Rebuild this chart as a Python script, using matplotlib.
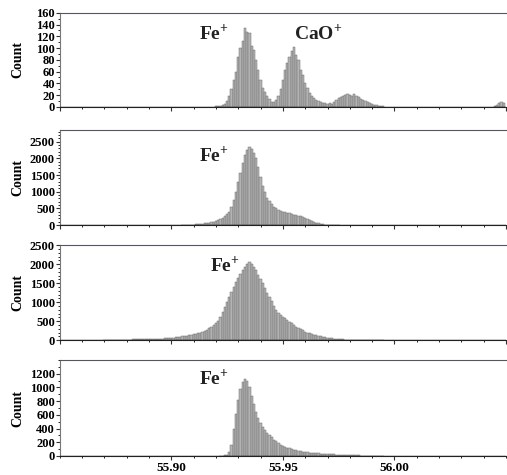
import numpy as np
import matplotlib.pyplot as plt
from matplotlib.ticker import MultipleLocator

# bin width of the mass spectra (m/z)
step = 0.001

# panel 1: Fe+ and CaO+ peaks
p1_start = 55.920
p1_counts = [1, 2, 1, 3, 5, 10, 18, 30, 45, 60,
             85, 100, 112, 135, 128, 126, 104, 96, 80, 62,
             45, 32, 25, 18, 14, 8, 9, 12, 18, 30,
             45, 62, 75, 84, 95, 102, 88, 80, 62, 55,
             40, 32, 24, 18, 15, 12, 10, 8, 6, 7,
             5, 6, 5, 8, 12, 15, 16, 18, 20, 22,
             20, 19, 22, 18, 16, 14, 12, 10, 9, 7,
             5, 4, 3, 2, 2, 1]
p1_edge_start = 56.045
p1_edge_counts = [2, 3, 6, 8, 6]

# panel 2
p2_start = 55.905
p2_counts = [5, 8, 10, 12, 15, 18, 22, 28, 35, 42,
             50, 60, 70, 85, 100, 120, 140, 170, 210, 260,
             320, 400, 550, 760, 1000, 1300, 1550, 1850, 2100, 2250,
             2350, 2280, 2150, 2020, 1750, 1450, 1180, 980, 820, 720,
             620, 540, 500, 460, 420, 400, 380, 360, 350, 330,
             310, 300, 280, 260, 240, 210, 180, 150, 120, 90,
             70, 50, 35, 25, 18, 12, 8, 6, 4, 3, 2]

# panel 3
p3_start = 55.870
p3_counts = [5, 6, 6, 7, 8, 8, 9, 10, 11, 12,
             13, 14, 15, 16, 17, 18, 19, 20, 22, 23,
             25, 27, 29, 31, 34, 37, 40, 44, 48, 55,
             60, 66, 72, 80, 88, 96, 105, 115, 125, 135,
             150, 165, 180, 200, 220, 245, 275, 310, 350, 395,
             440, 500, 600, 750, 880, 1010, 1140, 1270, 1400, 1530,
             1640, 1740, 1840, 1930, 1990, 2050, 2000, 1930, 1840, 1720,
             1600, 1490, 1370, 1250, 1140, 1020, 900, 790, 720, 660,
             610, 570, 520, 480, 440, 400, 350, 320, 290, 255,
             220, 200, 180, 165, 145, 130, 115, 100, 85, 72,
             60, 52, 45, 38, 32, 25, 22, 18, 15, 12,
             10, 9, 8, 7, 6, 5, 4, 4, 3, 3,
             2, 2, 2, 1, 1, 1]

# panel 4
p4_start = 55.922
p4_counts = [2, 5, 10, 20, 60, 160, 400, 620,
             820, 980, 1080, 1120, 1090, 1000, 880, 760, 640, 560,
             480, 420, 380, 340, 300, 270, 240, 215, 190, 165,
             150, 135, 120, 110, 100, 92, 84, 76, 70, 64,
             58, 54, 50, 46, 42, 40, 37, 35, 33, 31,
             29, 27, 25, 23, 21, 20, 18, 16, 15, 14,
             12, 11, 10, 9, 8, 7, 6, 5, 4, 3,
             3, 2, 2, 1, 1, 1]

serif = 'Liberation Serif'
plt.rcParams['font.family'] = serif
plt.rcParams['mathtext.fontset'] = 'custom'
plt.rcParams['mathtext.rm'] = serif
plt.rcParams['mathtext.bf'] = serif + ':bold'

fig = plt.figure(figsize=(5.07, 4.75), dpi=100)

# [bottom, top] of each axes in figure fraction
rows = [(0.775, 0.973), (0.526, 0.726), (0.284, 0.484), (0.040, 0.242)]
ylims = [160, 2850, 2500, 1400]
ymajor = [20, 500, 500, 200]
yminor = [10, 100, 100, 100]
yticks_max = [160, 2500, 2500, 1200]

series = [
    [(p1_start, p1_counts), (p1_edge_start, p1_edge_counts)],
    [(p2_start, p2_counts)],
    [(p3_start, p3_counts)],
    [(p4_start, p4_counts)],
]

# label positions (data coords, baseline)
labels = [
    [(55.919, 114, r'$\mathbf{Fe}^{\mathbf{+}}$'), (55.966, 114, r'$\mathbf{CaO}^{\mathbf{+}}$')],
    [(55.919, 1890, r'$\mathbf{Fe}^{\mathbf{+}}$')],
    [(55.924, 1790, r'$\mathbf{Fe}^{\mathbf{+}}$')],
    [(55.919, 1035, r'$\mathbf{Fe}^{\mathbf{+}}$')],
]

for i, (bot, top) in enumerate(rows):
    ax = fig.add_axes([0.118, bot, 0.880, top - bot])
    for start, counts in series[i]:
        x = start + step * np.arange(len(counts))
        ax.bar(x, counts, width=step, color='#b3b3b3', edgecolor='#6e6e6e',
               linewidth=0.35, zorder=2)
    ax.axhline(0, color='#222222', lw=1.0, zorder=3)
    ax.set_xlim(55.85, 56.05)
    ax.set_ylim(0, ylims[i])
    ax.set_yticks(np.arange(0, yticks_max[i] + 1, ymajor[i]))
    ax.yaxis.set_minor_locator(MultipleLocator(yminor[i]))
    ax.xaxis.set_major_locator(MultipleLocator(0.05))
    ax.xaxis.set_minor_locator(MultipleLocator(0.01))
    ax.tick_params(axis='both', direction='out', length=3, width=0.8,
                   colors='#333333', labelcolor='black', labelsize=9)
    ax.tick_params(axis='both', which='minor', length=1.5, width=0.6)
    for lab in ax.get_yticklabels():
        lab.set_fontweight('bold')
    ax.tick_params(axis='y', pad=0.5)
    if i < 3:
        ax.set_xticklabels([])
    else:
        ax.set_xticks([55.90, 55.95, 56.00])
        ax.set_xticklabels(['55.90', '55.95', '56.00'], fontweight='bold')
        ax.tick_params(axis='x', pad=1, labelsize=9.5)
    ax.spines['right'].set_visible(False)
    ax.spines['top'].set_color('#55556a')
    ax.spines['left'].set_color('#777777')
    ax.spines['bottom'].set_color('#222222')
    ax.set_ylabel('Count', fontweight='bold', fontsize=10)
    ax.yaxis.set_label_coords(-0.08, 0.5)
    for lx, ly, txt in labels[i]:
        ax.text(lx, ly, txt, fontsize=14, ha='center', va='baseline',
                color='#222222')

fig.savefig('out.png', dpi=100)
